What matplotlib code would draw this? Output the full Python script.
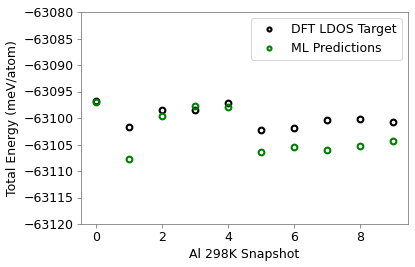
import matplotlib
matplotlib.use("Agg")
import matplotlib.pyplot as plt

snapshots = [0, 1, 2, 3, 4, 5, 6, 7, 8, 9]
dft_target = [-63096.8, -63101.7, -63098.5, -63098.5, -63097.1,
              -63102.2, -63101.95, -63100.4, -63100.1, -63100.8]
ml_pred = [-63097.0, -63107.65, -63099.6, -63097.7, -63097.85,
           -63106.5, -63105.5, -63106.0, -63105.3, -63104.3]

plt.rcParams["font.size"] = 12

fig = plt.figure(figsize=(415 / 75, 267 / 75), dpi=75)
ax = fig.add_axes([81 / 415, 43 / 267, 327 / 415, 212 / 267])

ax.plot(snapshots, dft_target, linestyle="none", marker="o",
        markerfacecolor="none", markeredgecolor="black",
        markersize=5.5, markeredgewidth=2, label="DFT LDOS Target")
ax.plot(snapshots, ml_pred, linestyle="none", marker="o",
        markerfacecolor="none", markeredgecolor="green",
        markersize=5.5, markeredgewidth=2, label="ML Predictions")

ax.set_ylim(-63120, -63080)
ax.set_xticks([0, 2, 4, 6, 8])
ax.set_xlabel("Al 298K Snapshot")
ax.set_ylabel("Total Energy (meV/atom)")
ax.ticklabel_format(axis="y", useOffset=False, style="plain")
for spine in ax.spines.values():
    spine.set_color("#808080")
ax.tick_params(color="#808080")
ax.legend(loc="upper right", edgecolor="#cccccc", markerscale=0.7)

fig.savefig("out.png", dpi=75)
